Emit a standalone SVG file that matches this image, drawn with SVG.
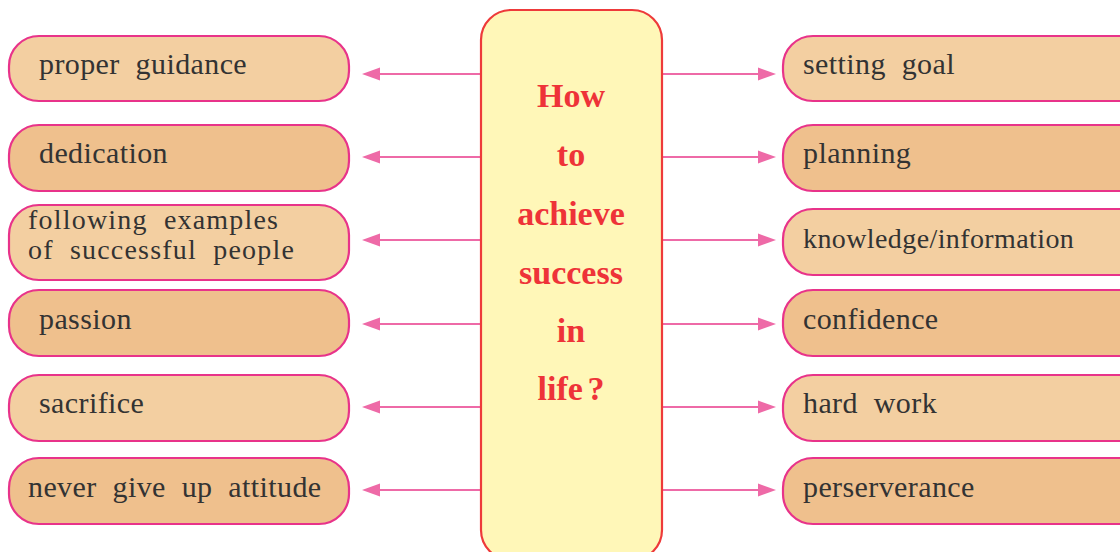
<svg xmlns="http://www.w3.org/2000/svg" width="1120" height="552" viewBox="0 0 1120 552">
<style>
.box{stroke:#E8338A;stroke-width:2.2}
.lt{fill:#F3CFA1}
.dk{fill:#EFC08D}
.t{font-family:"Liberation Serif",serif;font-size:30px;fill:#333333;word-spacing:8px;letter-spacing:0.4px}
.c{font-family:"Liberation Serif",serif;font-size:34px;font-weight:bold;fill:#EE3338;text-anchor:middle}
.ln{stroke:#EE6AA7;stroke-width:2.2;fill:none}
.ah{fill:#EE6AA7}
</style>
<rect width="1120" height="552" fill="#ffffff"/>
<g id="connectors">
<line class="ln" x1="481" y1="74" x2="376" y2="74"/><polygon class="ah" points="362,74 380,67.5 380,80.5"/>
<line class="ln" x1="481" y1="157" x2="376" y2="157"/><polygon class="ah" points="362,157 380,150.5 380,163.5"/>
<line class="ln" x1="481" y1="240" x2="376" y2="240"/><polygon class="ah" points="362,240 380,233.5 380,246.5"/>
<line class="ln" x1="481" y1="324" x2="376" y2="324"/><polygon class="ah" points="362,324 380,317.5 380,330.5"/>
<line class="ln" x1="481" y1="407" x2="376" y2="407"/><polygon class="ah" points="362,407 380,400.5 380,413.5"/>
<line class="ln" x1="481" y1="490" x2="376" y2="490"/><polygon class="ah" points="362,490 380,483.5 380,496.5"/>
<line class="ln" x1="662" y1="74" x2="762" y2="74"/><polygon class="ah" points="776,74 758,67.5 758,80.5"/>
<line class="ln" x1="662" y1="157" x2="762" y2="157"/><polygon class="ah" points="776,157 758,150.5 758,163.5"/>
<line class="ln" x1="662" y1="240" x2="762" y2="240"/><polygon class="ah" points="776,240 758,233.5 758,246.5"/>
<line class="ln" x1="662" y1="324" x2="762" y2="324"/><polygon class="ah" points="776,324 758,317.5 758,330.5"/>
<line class="ln" x1="662" y1="407" x2="762" y2="407"/><polygon class="ah" points="776,407 758,400.5 758,413.5"/>
<line class="ln" x1="662" y1="490" x2="762" y2="490"/><polygon class="ah" points="776,490 758,483.5 758,496.5"/>
</g>
<g id="center">
<rect x="481" y="10" width="181" height="550" rx="30" fill="#FFF7B8" stroke="#EE3A3A" stroke-width="2.2"/>
<text class="c" x="571" y="107">How</text>
<text class="c" x="571" y="166">to</text>
<text class="c" x="571" y="225">achieve</text>
<text class="c" x="571" y="284">success</text>
<text class="c" x="571" y="342">in</text>
<text class="c" x="571" y="400" style="word-spacing:-4px">life ?</text>
</g>
<g id="l1"><rect class="box lt" x="9" y="36" width="340" height="65" rx="30"/><text class="t" x="39" y="74">proper guidance</text></g>
<g id="l2"><rect class="box dk" x="9" y="125" width="340" height="66" rx="30"/><text class="t" x="39" y="163">dedication</text></g>
<g id="l3"><rect class="box lt" x="9" y="205" width="340" height="75" rx="30"/><text class="t" x="28" y="229" style="font-size:28px;letter-spacing:1.2px">following examples</text><text class="t" x="28" y="259" style="font-size:28px;letter-spacing:1.2px">of successful people</text></g>
<g id="l4"><rect class="box dk" x="9" y="290" width="340" height="66" rx="30"/><text class="t" x="39" y="329">passion</text></g>
<g id="l5"><rect class="box lt" x="9" y="375" width="340" height="66" rx="30"/><text class="t" x="39" y="413">sacrifice</text></g>
<g id="l6"><rect class="box dk" x="9" y="458" width="340" height="66" rx="30"/><text class="t" x="28" y="497">never give up attitude</text></g>
<g id="r1"><rect class="box lt" x="783" y="36" width="370" height="65" rx="30"/><text class="t" x="803" y="74">setting goal</text></g>
<g id="r2"><rect class="box dk" x="783" y="125" width="370" height="66" rx="30"/><text class="t" x="803" y="163">planning</text></g>
<g id="r3"><rect class="box lt" x="783" y="209" width="370" height="66" rx="30"/><text class="t" x="803" y="248" style="font-size:28px">knowledge/information</text></g>
<g id="r4"><rect class="box dk" x="783" y="290" width="370" height="66" rx="30"/><text class="t" x="803" y="329">confidence</text></g>
<g id="r5"><rect class="box lt" x="783" y="375" width="370" height="66" rx="30"/><text class="t" x="803" y="413">hard work</text></g>
<g id="r6"><rect class="box dk" x="783" y="458" width="370" height="66" rx="30"/><text class="t" x="803" y="497">perserverance</text></g>
</svg>
